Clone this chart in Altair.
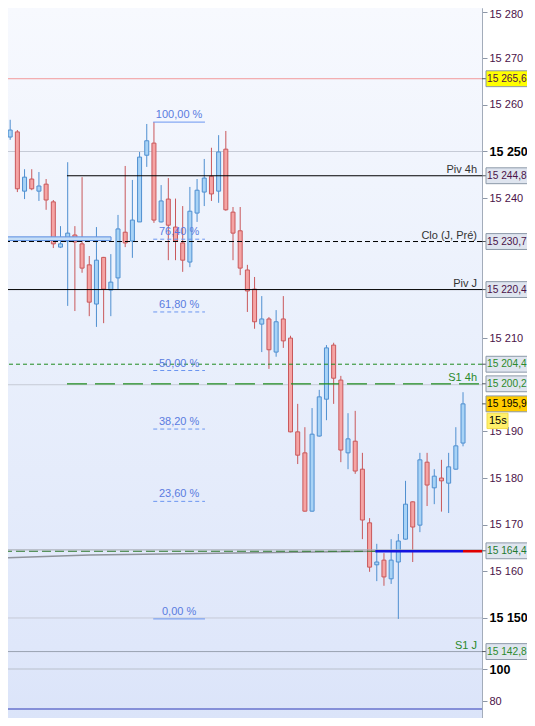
import altair as alt
import pandas as pd

# ---------------- data ----------------
opens  = [15253.1, 15253.1, 15254.2, 15241.5, 15244.1, 15241.5, 15243.0, 15239.2, 15229.5, 15230.8,
          15232.1, 15230.2, 15225.7, 15217.3, 15227.3, 15220.3, 15222.9, 15232.7, 15230.8, 15234.9,
          15249.2, 15251.8, 15234.9, 15239.8, 15233.8, 15230.4, 15226.3, 15236.8, 15241.3, 15244.7,
          15241.5, 15250.5, 15237.0, 15233.0, 15224.6, 15220.5, 15213.0, 15214.1, 15207.0, 15214.1,
          15210.0, 15189.9, 15185.4, 15172.9, 15189.0, 15196.9, 15208.5, 15201.0, 15185.4, 15187.9,
          15181.9, 15170.4, 15161.4, 15162.4, 15158.4, 15162.0, 15166.9, 15174.9, 15169.9, 15183.4,
          15177.9, 15180.0, 15178.9, 15181.9, 15187.5]
highs  = [15257.6, 15256.8, 15254.6, 15246.2, 15246.2, 15245.6, 15244.1, 15239.6, 15234.0, 15247.7,
          15234.0, 15244.5, 15227.6, 15233.8, 15227.4, 15228.0, 15236.4, 15246.9, 15243.9, 15249.9,
          15255.9, 15256.3, 15242.8, 15244.3, 15239.9, 15238.3, 15242.4, 15244.1, 15248.4, 15250.8,
          15253.5, 15254.4, 15238.1, 15238.1, 15225.7, 15223.1, 15219.0, 15214.5, 15216.0, 15219.0,
          15210.5, 15195.9, 15190.9, 15195.0, 15198.9, 15208.5, 15209.0, 15201.9, 15193.9, 15194.4,
          15185.4, 15171.4, 15165.9, 15163.9, 15166.9, 15168.0, 15179.4, 15175.0, 15185.4, 15185.4,
          15181.9, 15183.9, 15185.4, 15190.9, 15198.4]
lows   = [15252.5, 15252.5, 15241.3, 15239.8, 15241.7, 15239.4, 15237.5, 15229.3, 15229.3, 15216.9,
          15215.8, 15224.0, 15214.7, 15212.4, 15213.2, 15214.7, 15220.5, 15229.5, 15227.2, 15234.9,
          15246.7, 15234.7, 15234.8, 15226.7, 15226.7, 15224.2, 15225.2, 15234.9, 15238.3, 15239.4,
          15239.0, 15237.3, 15226.7, 15223.5, 15215.6, 15212.0, 15207.0, 15203.4, 15206.0, 15207.9,
          15189.8, 15183.0, 15172.8, 15172.8, 15188.9, 15192.4, 15195.9, 15183.4, 15181.9, 15180.9,
          15166.9, 15159.9, 15157.9, 15156.9, 15157.3, 15149.8, 15166.8, 15162.0, 15168.4, 15174.0,
          15174.4, 15172.8, 15172.5, 15181.8, 15186.8]
closes = [15253.8, 15254.6, 15242.0, 15244.5, 15242.0, 15242.6, 15239.6, 15230.2, 15230.2, 15232.5,
          15230.6, 15225.0, 15217.7, 15226.7, 15220.5, 15222.0, 15233.4, 15230.4, 15235.3, 15248.8,
          15252.3, 15235.3, 15239.4, 15234.2, 15230.8, 15226.7, 15237.2, 15241.7, 15244.3, 15240.9,
          15249.9, 15237.5, 15232.5, 15225.0, 15220.1, 15213.5, 15214.1, 15207.5, 15213.5, 15209.4,
          15189.9, 15184.9, 15172.9, 15189.4, 15197.4, 15207.9, 15201.4, 15186.0, 15188.4, 15181.5,
          15171.0, 15160.9, 15162.0, 15158.8, 15162.4, 15166.5, 15174.4, 15169.5, 15183.9, 15178.5,
          15180.4, 15179.4, 15182.4, 15186.9, 15195.9]

# moving-average like grey curve
ma_index = [0.7, 12, 35, 52, 66.6]
ma_values = [15162.9, 15163.5, 15164.0, 15164.3, 15164.4]

# horizontal price levels
grid_levels = [15250, 15200, 15150]
price_ticks = [15280, 15270, 15260, 15250, 15240, 15210, 15190, 15180, 15170, 15160, 15150]

line_label_values = [15244.8, 15230.7, 15220.4, 15200.2, 15142.8]
line_label_texts = ["Piv 4h", "Clo (J, Pré)", "Piv J", "S1 4h", "S1 J"]
line_label_colors = ["#333333", "#333333", "#333333", "#2b8a2b", "#2b8a2b"]

box_values = [15265.6, 15244.8, 15230.7, 15220.4, 15204.4, 15200.2, 15195.9, 15164.4, 15142.8]
box_fills = ["#ffff00", "#dfe5ef", "#dfe5ef", "#dfe5ef", "#dfe5ef", "#dfe5ef", "#ffcc00", "#dfe5ef", "#dfe5ef"]
box_text_colors = ["#4b1248", "#4b1248", "#4b1248", "#4b1248", "#2b8a2b", "#2b8a2b", "#000000", "#1f7a2f", "#2b8a2b"]
timer_text = "15s"

# fibonacci retracement
fib_labels = ["100,00 %", "76,40 %", "61,80 %", "50,00 %", "38,20 %", "23,60 %", "0,00 %"]
fib_levels = [15256.3, 15231.2, 15215.6, 15203.05, 15190.5, 15175.0, 15149.8]
fib_solid = [True, False, False, False, False, False, True]
fib_start, fib_mid, fib_end = 20.9, 24.5, 28.1

# lower indicator pane
ind_ticks = [100, 80]
ind_ref = 100
ind_value = 75

# ---------------- geometry ----------------
W, H, RIGHT = 474, 710, 45
X_DOM = [0.696, 66.64]
Y_DOM = [15128.56, 15280.76]
IND_DOM = [69.375, 513.125]
FONT = "Liberation Sans"
LABEL_COLOR = "#4b1248"

XS = alt.Scale(domain=X_DOM, nice=False, zero=False, padding=0)
YS = alt.Scale(domain=Y_DOM, nice=False, zero=False, padding=0)
IS = alt.Scale(domain=IND_DOM, nice=False, zero=False, padding=0)

BOLD = "datum.value == 15250 || datum.value == 15150"
price_axis = alt.Axis(
    orient="right", values=price_ticks, title=None, grid=False,
    labelExpr="replace(format(datum.value, ',d'), ',', ' ')",
    labelFont=FONT,
    labelFontSize={"condition": {"test": BOLD, "value": 12.5}, "value": 11},
    labelFontWeight={"condition": {"test": BOLD, "value": "bold"}, "value": "normal"},
    labelColor={"condition": {"test": BOLD, "value": "#000000"}, "value": LABEL_COLOR},
    labelOffset={"condition": {"test": "datum.value == 15280", "value": 3}, "value": 0},
    labelPadding=2, labelOverlap=False, tickSize=5, tickColor="#8d97a7",
    domainColor="#a3acba", domainWidth=1)

ind_axis = alt.Axis(
    orient="right", values=ind_ticks, title=None, grid=False, labelFont=FONT,
    labelFontSize={"condition": {"test": "datum.value == 100", "value": 12.5}, "value": 11},
    labelFontWeight={"condition": {"test": "datum.value == 100", "value": "bold"}, "value": "normal"},
    labelColor={"condition": {"test": "datum.value == 100", "value": "#000000"}, "value": LABEL_COLOR},
    labelPadding=2, labelOverlap=False, tickSize=5, tickColor="#8d97a7",
    domainColor="#a3acba", domainWidth=1)


def X(f):
    return alt.X(f"{f}:Q", scale=XS, axis=None)


def Y(f):
    return alt.Y(f"{f}:Q", scale=YS, axis=price_axis)


def YI(f):
    return alt.Y(f"{f}:Q", scale=IS, axis=ind_axis)


BLUE_FILL, BLUE_LINE = "#a8d3f6", "#4f8fd0"
RED_FILL, RED_LINE = "#f5a4a4", "#c9585b"

n = len(opens)
candles = pd.DataFrame({"i": list(range(n)), "open": opens, "high": highs,
                        "low": lows, "close": closes})
candles["dir"] = ["up" if c >= o else "down" for o, c in zip(opens, closes)]
candles["lo"] = candles[["open", "close"]].min(axis=1)
candles["hi"] = candles[["open", "close"]].max(axis=1)

grad = alt.LinearGradient(gradient="linear", x1=0, x2=0, y1=0, y2=1,
                          stops=[alt.GradientStop(color="#f7f9fe", offset=0),
                                 alt.GradientStop(color="#eaf0fc", offset=0.45),
                                 alt.GradientStop(color="#dfe7fa", offset=0.9),
                                 alt.GradientStop(color="#dbe4f9", offset=1)])
one = pd.DataFrame({"k": [0]})

bg = alt.Chart(one).mark_rect(fill=grad).encode(
    x=alt.value(0), x2=alt.value(W), y=alt.value(0), y2=alt.value(H))

grid = alt.Chart(pd.DataFrame({"v": grid_levels})).mark_rule(
    color="#c6cbd6", strokeWidth=1).encode(y=Y("v"))

ma = alt.Chart(pd.DataFrame({"i": ma_index, "v": ma_values})).mark_line(
    color="#8f949c", strokeWidth=1.5, clip=True).encode(x=X("i"), y=Y("v"))

dir_scale_line = alt.Scale(domain=["up", "down"], range=[BLUE_LINE, RED_LINE])
dir_scale_fill = alt.Scale(domain=["up", "down"], range=[BLUE_FILL, RED_FILL])

wicks = alt.Chart(candles).mark_rule(strokeWidth=1, clip=True).encode(
    x=X("i"), y=Y("low"), y2="high",
    color=alt.Color("dir:N", scale=dir_scale_line, legend=None))

bodies = alt.Chart(candles).mark_bar(size=4, strokeWidth=1, clip=True).encode(
    x=X("i"), y=Y("lo"), y2="hi",
    fill=alt.Fill("dir:N", scale=dir_scale_fill, legend=None),
    stroke=alt.Stroke("dir:N", scale=dir_scale_line, legend=None))

sel_rect = alt.Chart(pd.DataFrame({"a": [0.0], "b": [15.03], "lo": [15230.9], "hi": [15231.7]})).mark_rect(
    fill="#c4ddf7", stroke="#5b8ee0", strokeWidth=1, clip=True).encode(
    x=X("a"), x2="b", y=Y("lo"), y2="hi")


def full_rule(value, color, width=1, dash=None):
    kw = {"color": color, "strokeWidth": width}
    if dash:
        kw["strokeDash"] = dash
    return alt.Chart(pd.DataFrame({"v": [value]})).mark_rule(**kw).encode(y=Y("v"))


def part_rule(value, start, end, color, width=1, dash=None):
    kw = {"color": color, "strokeWidth": width, "clip": True}
    if dash:
        kw["strokeDash"] = dash
    return alt.Chart(pd.DataFrame({"v": [value], "s": [start], "e": [end]})).mark_rule(**kw).encode(
        x=X("s"), x2="e", y=Y("v"))


END = X_DOM[1]
levels = [
    full_rule(15265.6, "#f29a9a"),
    part_rule(15244.8, 8.9, END, "#000000"),
    full_rule(15230.7, "#000000", 1, [5, 3]),
    full_rule(15220.4, "#000000"),
    full_rule(15204.4, "#1f8c1f", 1, [4, 3]),
    part_rule(15200.2, 8.9, END, "#1f8c1f", 1.2, [20, 8]),
    full_rule(15164.6, "#a4a8b0"),
    part_rule(15164.3, 0.0, 51.8, "#2f7a2f", 1, [9, 4]),
    part_rule(15164.3, 51.8, 64.0, "#1414e0", 2.5),
    part_rule(15164.3, 64.0, END, "#e00000", 2.5),
    full_rule(15142.8, "#9aa3b2"),
]

fib = pd.DataFrame({"t": fib_labels, "v": fib_levels, "solid": fib_solid,
                    "s": fib_start, "m": fib_mid, "e": fib_end})
fib_solid_lines = alt.Chart(fib[fib["solid"]]).mark_rule(color="#6b95f0", strokeWidth=1).encode(
    x=X("s"), x2="e", y=Y("v"))
fib_dash_lines = alt.Chart(fib[~fib["solid"]]).mark_rule(
    color="#6b95f0", strokeWidth=1, strokeDash=[4, 3]).encode(x=X("s"), x2="e", y=Y("v"))
fib_text = alt.Chart(fib).mark_text(
    font=FONT, fontSize=11, color="#5a7be0", baseline="bottom", dy=-2).encode(
    x=X("m"), y=Y("v"), text="t:N")

lab = pd.DataFrame({"v": line_label_values, "t": line_label_texts, "c": line_label_colors})
line_labels = alt.Chart(lab).mark_text(
    font=FONT, fontSize=11, align="right", baseline="bottom", dy=-1).encode(
    x=alt.value(469), y=Y("v"), text="t:N", color=alt.Color("c:N", scale=None))

HALF = 1.7
boxes_df = pd.DataFrame({
    "v": box_values, "f": box_fills, "c": box_text_colors,
    "lo": [b - HALF for b in box_values], "hi": [b + HALF for b in box_values],
    "t": [f"{b:,.1f}".replace(",", " ").replace(".", ",") for b in box_values]})
box_ticks = alt.Chart(boxes_df).mark_rule(color="#50565e", strokeWidth=1).encode(
    x=alt.value(W), x2=alt.value(W + 4), y=Y("v"))
boxes = alt.Chart(boxes_df).mark_rect(stroke="#8c99a8", strokeWidth=1).encode(
    x=alt.value(W + 4), x2=alt.value(W + RIGHT + 4), y=Y("lo"), y2="hi",
    fill=alt.Fill("f:N", scale=None))
box_text = alt.Chart(boxes_df).mark_text(font=FONT, fontSize=10.2, align="left").encode(
    x=alt.value(W + 5), y=Y("v"), text="t:N", color=alt.Color("c:N", scale=None))

cur = box_values[6]
timer_df = pd.DataFrame({"t": [timer_text], "hi": [cur - 2.0], "lo": [cur - 5.3],
                         "m": [cur - 3.65]})
timer_box = alt.Chart(timer_df).mark_rect(fill="#fff06a", stroke="#f2dc4a", strokeWidth=1).encode(
    x=alt.value(W + 5), x2=alt.value(W + 26), y=Y("lo"), y2="hi")
timer_text_m = alt.Chart(timer_df).mark_text(font=FONT, fontSize=11, align="left").encode(
    x=alt.value(W + 7), y=Y("m"), text="t:N", color=alt.value("#000000"))

price_pane = alt.layer(bg, grid, ma, wicks, bodies, sel_rect, *levels,
                       fib_solid_lines, fib_dash_lines, fib_text, line_labels,
                       box_ticks, boxes, box_text, timer_box, timer_text_m)

# ---------------- lower indicator pane ----------------
ref_line = alt.Chart(pd.DataFrame({"v": [ind_ref]})).mark_rule(color="#b9c0cc", strokeWidth=1).encode(
    y=YI("v"))
ind_line = alt.Chart(pd.DataFrame({"v": [ind_value]})).mark_rule(color="#2f3bb8", strokeWidth=1.2).encode(
    y=YI("v"))

ind_pane = alt.layer(ref_line, ind_line)

chart = alt.layer(price_pane, ind_pane).resolve_scale(y="independent").resolve_axis(
    y="independent").properties(
    width=W, height=H,
    padding={"left": 0, "top": 0, "right": RIGHT, "bottom": 0},
    autosize=alt.AutoSizeParams(type="none"),
    background="#ffffff",
).configure(font=FONT).configure_view(strokeWidth=0)

chart.save("out.html", embed_options={"renderer": "svg", "actions": False})
